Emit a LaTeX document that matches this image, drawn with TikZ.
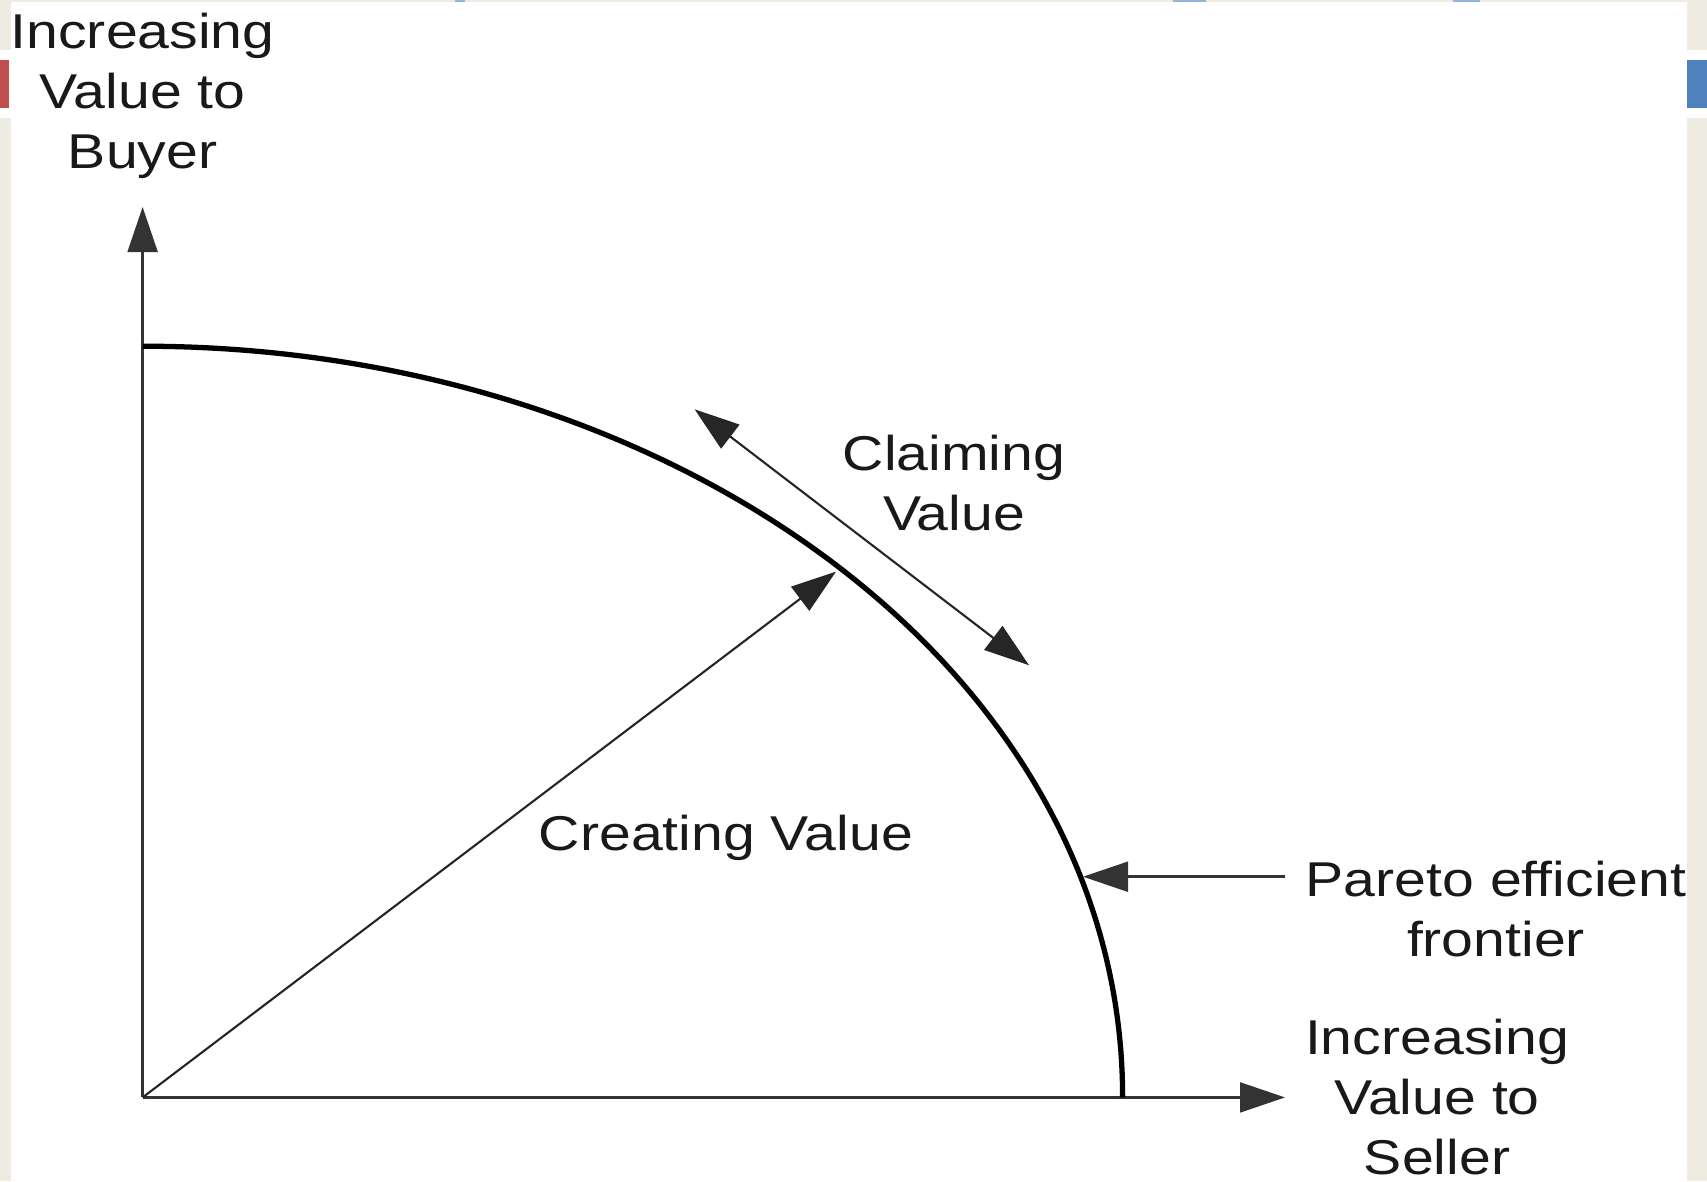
\documentclass[tikz,border=0pt]{standalone}
\usepackage{fontspec}
\setmainfont{Liberation Sans}[FakeStretch=1.17]
\usetikzlibrary{arrows.meta}

\definecolor{slidetan}{HTML}{EEECE1}
\definecolor{slidered}{HTML}{C0504D}
\definecolor{slideblue}{HTML}{4F81BD}

\tikzset{
    lbl/.style={align=center, inner sep=0pt, anchor=north, text=black!90,
        font=\fontsize{13.9pt}{17.1pt}\selectfont},
    tip/.style={-{Triangle[length=12.8pt, width=8.5pt]}},
    twotip/.style={{Triangle[length=12.8pt, width=8.5pt]}-{Triangle[length=12.8pt, width=8.5pt]}},
}

\begin{document}
\begin{tikzpicture}[x=0.01cm, y=-0.01cm]
    \useasboundingbox (0, 0) rectangle (1707, 1181);
    \clip (0, 0) rectangle (1707, 1181);
    % slide border
    \fill[white] (0, 0) rectangle (1707, 1181);
    \fill[slidetan] (0, 0) rectangle (1707, 2);
    \fill[slidetan] (0, 0) rectangle (11, 50);
    \fill[slidered] (0, 60) rectangle (9, 108);
    \fill[slidetan] (0, 118) rectangle (11, 1181);
    \fill[slidetan] (1687, 0) rectangle (1707, 50);
    \fill[slideblue] (1687, 60) rectangle (1707, 108);
    \fill[slidetan] (1687, 118) rectangle (1707, 1181);
    \fill[slideblue!60] (455, 0) rectangle (465, 2);
    \fill[slideblue!60] (1173, 0) rectangle (1206, 2);
    \fill[slideblue!60] (1453, 0) rectangle (1480, 2);

    % axes
    \coordinate (o) at (142.6, 1097.4);
    \coordinate (ytop) at (142.6, 207);
    \coordinate (xend) at (1285, 1097.4);
    \node[lbl] (buyer) at (142.6, 12) {Increasing\\Value to\\Buyer};
    \node[lbl] (seller) at (1437, 1018) {Increasing\\Value to\\Seller};
    \draw[tip, line width=0.7pt, black!80] (o) -- (ytop);
    \draw[tip, line width=0.7pt, black!80] (o) -- (xend);

    % frontier
    \coordinate (ftop) at (142.6, 346.2);
    \coordinate (fend) at (1122.6, 1097.4);
    \draw[line width=1.5pt] (ftop) .. controls (671.8, 346.2) and (1122.6, 669.2) .. (fend);

    % creating value
    \coordinate (cv) at (836, 571.6);
    \node[lbl] (create) at (726, 814) {Creating Value};
    \draw[tip, line width=0.6pt, black!85] (o) -- (cv);

    % claiming value
    \coordinate (cl1) at (694.6, 409.3);
    \coordinate (cl2) at (1029, 665.2);
    \node[lbl] (claim) at (954, 434) {Claiming\\Value};
    \draw[twotip, line width=0.6pt, black!85] (cl1) -- (cl2);

    % pareto frontier label
    \coordinate (pf) at (1083, 876.7);
    \coordinate (pe) at (1285, 876.7);
    \node[lbl] (pareto) at (1496, 860) {Pareto efficient\\frontier};
    \draw[tip, line width=0.7pt, black!80] (pe) -- (pf);
\end{tikzpicture}
\end{document}
